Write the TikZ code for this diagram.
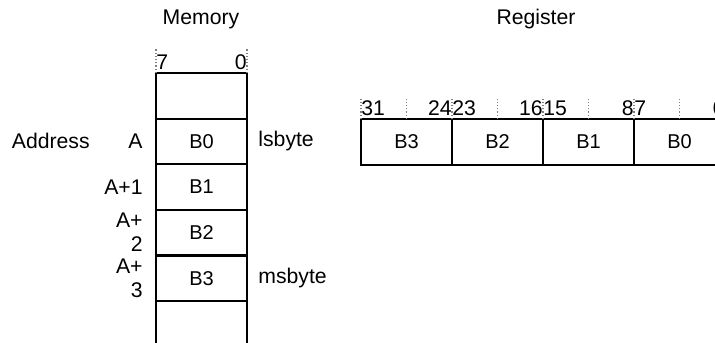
\documentclass[tikz,border=0pt]{standalone}
\usepackage{fontspec}
\setmainfont{Liberation Sans}
\usetikzlibrary{positioning}

\begin{document}
\begin{tikzpicture}[x=0.5pt,y=-0.5pt,
  cell/.style = {draw,line width=1.1pt,minimum width=45.5pt,minimum height=22.8pt,inner sep=0pt,outer sep=0pt},
  tick/.style = {gray,densely dotted,line width=0.6pt},
  lbl/.style = {inner sep=0pt,font=\fontsize{10.6}{12}\selectfont}
  ]
\useasboundingbox (0,0) rectangle (715,342);

% memory column
\node[cell,anchor=north west] (m0) at (156,73) {};
\node[cell,below=0pt of m0] (m1) {B0};
\node[cell,below=0pt of m1] (m2) {B1};
\node[cell,below=0pt of m2] (m3) {B2};
\node[cell,below=0pt of m3] (m4) {B3};
\node[cell,below=0pt of m4] (m5) {};
\node[lbl] (memtitle) at (201,19) {Memory};
\draw[tick] (m0.north west) -- ++(0,-25);
\draw[tick] (m0.north east) -- ++(0,-25);
\node[lbl,anchor=base west] (mhi) at ([yshift=2pt]m0.north west) {7};
\node[lbl,anchor=base east] (mlo) at ([yshift=2pt]m0.north east) {0};

\node[lbl,anchor=east] (addrA) at ([xshift=-6.5pt]m1.west) {A};
\node[lbl,left=19pt of addrA] (addrlbl) {Address};
\node[lbl,anchor=east,align=right] (addrB) at ([xshift=-6.5pt]m2.west) {A+1};
\node[lbl,anchor=east,align=right] (addrC) at ([xshift=-6.5pt]m3.west) {A+\\2};
\node[lbl,anchor=east,align=right] (addrD) at ([xshift=-6.5pt]m4.west) {A+\\3};
\node[lbl,anchor=west] (lsb) at ([xshift=5.5pt]m1.east) {lsbyte};
\node[lbl,anchor=west] (msb) at ([xshift=5.5pt]m4.east) {msbyte};

% register
\node[cell,anchor=north west] (r3) at (361,119) {B3};
\node[cell,right=0pt of r3] (r2) {B2};
\node[cell,right=0pt of r2] (r1) {B1};
\node[cell,right=0pt of r1] (r0) {B0};
\node[lbl] (regtitle) at (536,19) {Register};
\foreach \r/\hi/\lo in {r3/31/24,r2/23/16,r1/15/8,r0/7/0}{
  \draw[tick] (\r.north west) -- ++(0,-22);
  \draw[tick] (\r.north) -- ++(0,-22);
  \node[lbl,anchor=base west] (hi\r) at ([yshift=2pt]\r.north west) {\hi};
  \node[lbl,anchor=base east] (lo\r) at ([yshift=2pt]\r.north east) {\lo};
}
\end{tikzpicture}
\end{document}
